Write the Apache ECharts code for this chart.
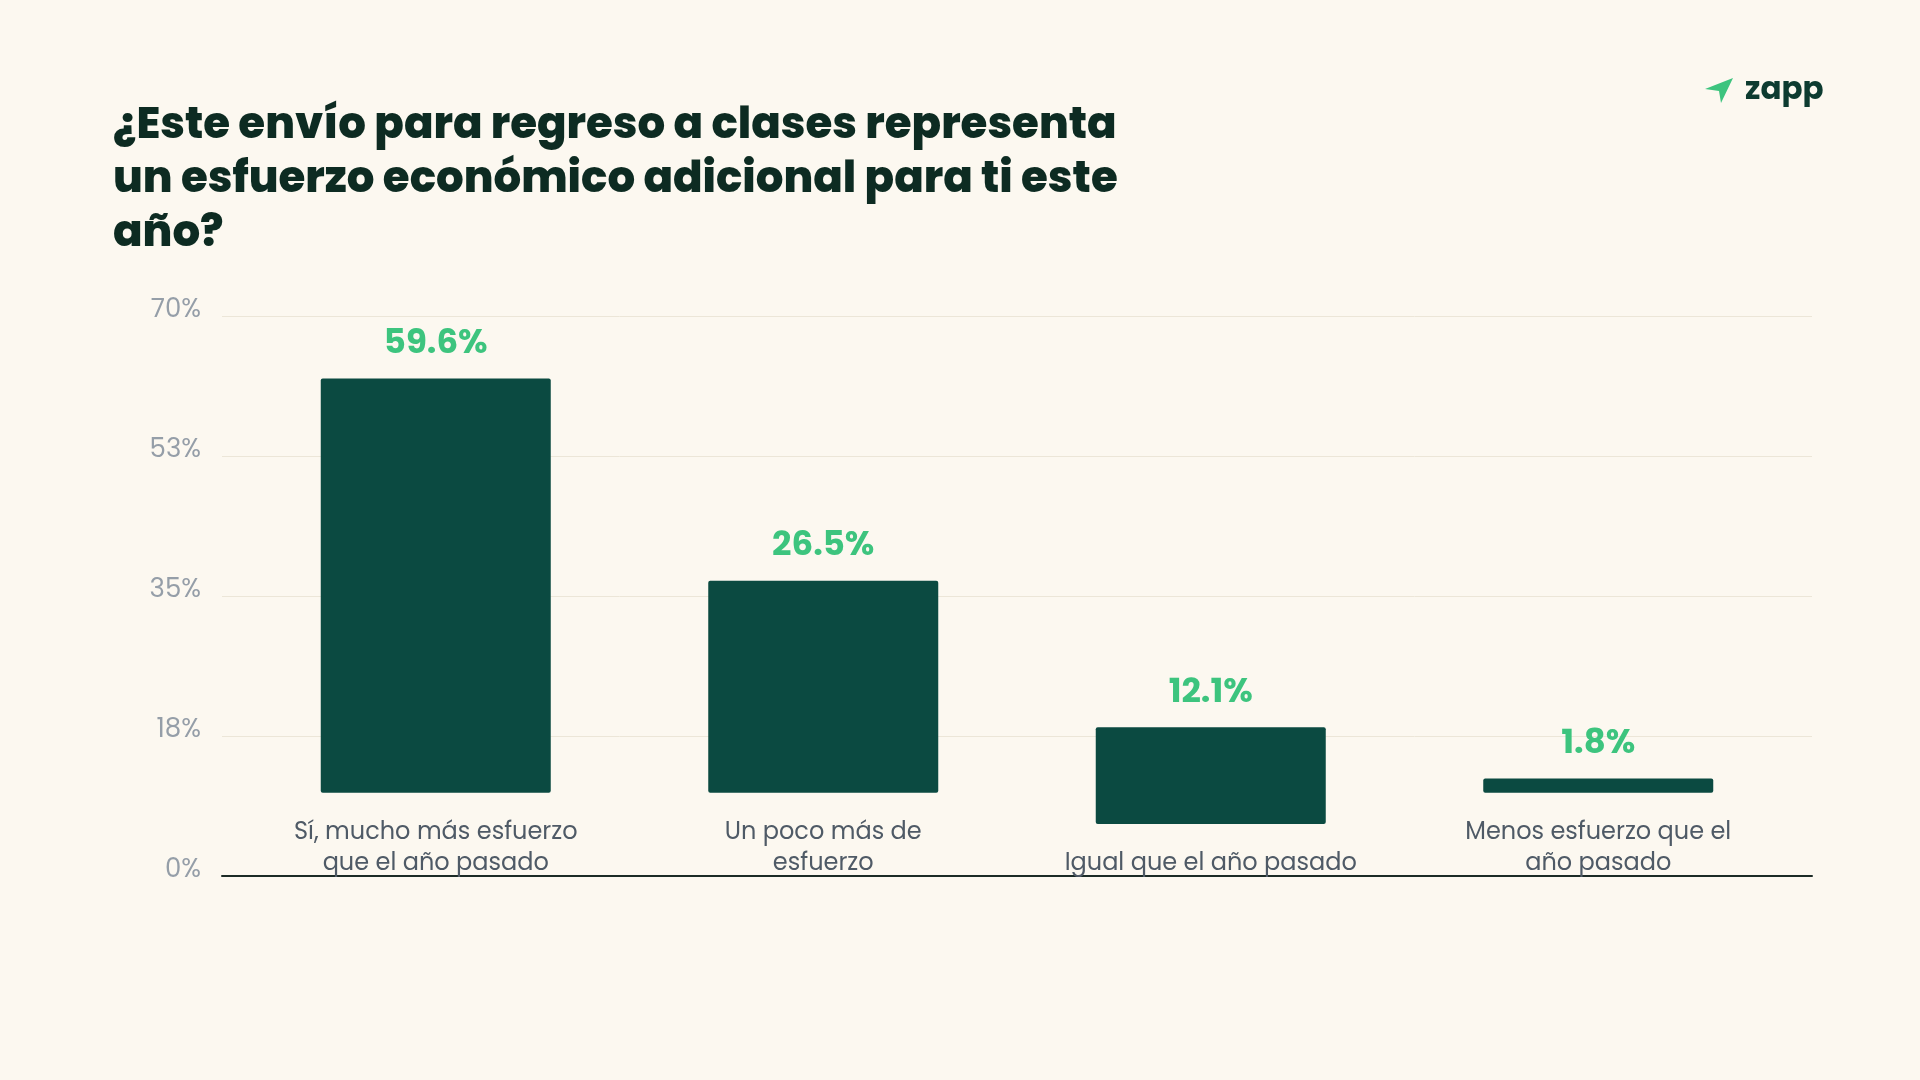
<!DOCTYPE html>
<html>
<head>
<meta charset="utf-8">
<title>Esfuerzo económico regreso a clases</title>
<script src="https://cdn.jsdelivr.net/npm/echarts@6/dist/echarts.min.js"></script>
<style>
  html, body { margin: 0; padding: 0; background: #fcf8f0; }
  #chart { width: 1920px; height: 1080px; }
</style>
</head>
<body>
<div id="chart"></div>
<script>
// categorías (eje x)
var categories = [
  "Sí, mucho más esfuerzo\nque el año pasado",
  "Un poco más de\nesfuerzo",
  "Igual que el año pasado",
  "Menos esfuerzo que el\naño pasado"
];
// porcentajes mostrados encima de cada barra
var percentLabels = [59.6, 26.5, 12.1, 1.8];
// inicio de cada barra sobre el eje (las barras flotan)
var barStart = [10.4, 10.4, 6.5, 10.4];
// alto dibujado de cada barra
var barHeight = [51.8, 26.5, 12.1, 1.8];
// eje y
var yMin = 0, yMax = 70, yStep = 17.5;

var font = "Poppins, Inter, 'Open Sans', sans-serif";

var myChart = echarts.init(document.getElementById("chart"));

var option = {
  backgroundColor: "#fcf8f0",
  animation: false,
  title: {
    text: "¿Este envío para regreso a clases representa\nun esfuerzo económico adicional para ti este\naño?",
    left: 108,
    top: 95,
    textStyle: {
      color: "#0d2b22",
      fontFamily: font,
      fontWeight: 800,
      fontSize: 43.5,
      lineHeight: 54
    }
  },
  graphic: [
    {
      type: "polygon",
      shape: { points: [[1733, 78], [1705, 89], [1719, 91], [1721, 103]] },
      style: { fill: "#3dc47e" }
    },
    {
      type: "text",
      left: 1745,
      top: 76,
      style: {
        text: "zapp",
        fill: "#0d3b30",
        font: "bold 31px " + font
      }
    }
  ],
  grid: [
    // cuadrícula y eje y
    { left: 222, top: 316, width: 1590, height: 560 },
    // barras
    { left: 242, top: 316, width: 1550, height: 560 }
  ],
  xAxis: [
    {
      type: "category",
      gridIndex: 0,
      data: categories,
      axisLine: { show: true, lineStyle: { color: "#1c2b26", width: 2 } },
      axisTick: { show: false },
      axisLabel: { show: false }
    },
    {
      type: "category",
      gridIndex: 1,
      data: categories,
      axisLine: { show: false },
      axisTick: { show: false },
      axisLabel: {
        inside: true,
        margin: -3,
        color: "#4f5a66",
        fontFamily: font,
        fontSize: 24,
        lineHeight: 31,
        verticalAlign: "bottom"
      }
    }
  ],
  yAxis: [
    {
      type: "value",
      gridIndex: 0,
      min: yMin,
      max: yMax,
      interval: yStep,
      axisLine: { show: false },
      axisTick: { show: false },
      axisLabel: {
        margin: 21,
        color: "#959ea8",
        fontFamily: font,
        fontSize: 26,
        lineHeight: 12,
        verticalAlign: "bottom",
        formatter: function(v) {
          return Math.round(v) + "%";
        }
      },
      splitLine: { lineStyle: { color: "#ece6d8", width: 1 } }
    },
    {
      type: "value",
      gridIndex: 1,
      min: yMin,
      max: yMax,
      interval: yStep,
      show: false,
      splitLine: { show: false }
    }
  ],
  series: [
    {
      name: "base",
      type: "bar",
      xAxisIndex: 1,
      yAxisIndex: 1,
      stack: "total",
      barWidth: 230,
      silent: true,
      itemStyle: { color: "transparent" },
      data: barStart
    },
    {
      name: "respuesta",
      type: "bar",
      xAxisIndex: 1,
      yAxisIndex: 1,
      stack: "total",
      barWidth: 230,
      itemStyle: { color: "#0b4a41", borderRadius: 2 },
      label: {
        show: true,
        position: "top",
        distance: 17,
        color: "#3dc47e",
        fontFamily: font,
        fontWeight: "bold",
        fontSize: 34,
        formatter: function(p) {
          return percentLabels[p.dataIndex] + "%";
        }
      },
      data: barHeight
    }
  ]
};

myChart.setOption(option);
window.addEventListener("resize", function() {
  myChart.resize();
});
</script>
</body>
</html>
